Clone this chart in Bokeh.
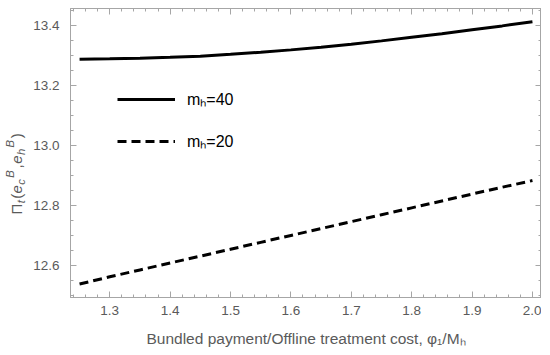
import numpy as np
from bokeh.plotting import figure
from bokeh.layouts import row
from bokeh.models import (Range1d, LinearAxis, FixedTicker, NumeralTickFormatter,
                          CustomJSTickFormatter, Legend, LegendItem, Label,
                          ColumnDataSource)
from bokeh.embed import file_html
from bokeh.resources import INLINE

# ---- data ----
ratio = [1.25, 1.30, 1.35, 1.40, 1.45, 1.50, 1.55, 1.60, 1.65, 1.70,
         1.75, 1.80, 1.85, 1.90, 1.95, 2.00]
profit_m40 = [13.288, 13.289, 13.291, 13.294, 13.298, 13.304, 13.311, 13.319,
              13.328, 13.338, 13.349, 13.361, 13.373, 13.386, 13.399, 13.413]
profit_m20 = [12.538, 12.562, 12.585, 12.608, 12.631, 12.654, 12.677, 12.700,
              12.723, 12.746, 12.769, 12.792, 12.815, 12.838, 12.861, 12.883]
series_labels = ["mₕ=40", "mₕ=20"]
x_ticks = [1.3, 1.4, 1.5, 1.6, 1.7, 1.8, 1.9, 2.0]
y_ticks = [12.6, 12.8, 13.0, 13.2, 13.4]
x_label = "Bundled payment/Offline treatment cost, φ₁/Mₕ"

GRAY = "#a6a6a6"
TXT = "#5a5a5a"
FONT = "Liberation Sans"

Y0, Y1 = 12.493, 13.457
FH = 289
LABEL_W = 30

x_minor = list(np.round(np.arange(1.24, 2.0201, 0.02), 2))
y_minor = list(np.round(np.arange(12.50, 13.4501, 0.05), 2))

p = figure(frame_width=471, frame_height=FH,
           x_range=Range1d(1.235, 2.015), y_range=Range1d(Y0, Y1),
           output_backend="svg", toolbar_location=None,
           min_border_left=70 - LABEL_W, min_border_right=0, min_border_top=8,
           min_border_bottom=55)
p.xgrid.visible = False
p.ygrid.visible = False
p.outline_line_color = GRAY
p.outline_line_width = 1
p.background_fill_color = "white"
p.border_fill_color = "white"

src = ColumnDataSource(dict(x=ratio, a=profit_m40, b=profit_m20))
r1 = p.line("x", "a", source=src, line_color="black", line_width=3)
r2 = p.line("x", "b", source=src, line_color="black", line_width=3, line_dash="9 5")

xt = FixedTicker(ticks=x_ticks, minor_ticks=x_minor)
yt = FixedTicker(ticks=y_ticks, minor_ticks=y_minor)


def style(ax):
    ax.axis_line_color = GRAY
    ax.major_tick_line_color = GRAY
    ax.minor_tick_line_color = GRAY
    ax.major_tick_in = 6
    ax.major_tick_out = 0
    ax.minor_tick_in = 3
    ax.minor_tick_out = 0
    ax.major_label_text_font = FONT
    ax.major_label_text_color = TXT
    ax.major_label_text_font_size = "13.5px"


xa = p.xaxis[0]
xa.ticker = xt
xa.formatter = NumeralTickFormatter(format="0.0")
style(xa)
xa.major_label_standoff = 8
xa.axis_label = x_label
xa.axis_label_text_font = FONT
xa.axis_label_text_font_style = "normal"
xa.axis_label_text_font_size = "15.5px"
xa.axis_label_text_color = TXT
xa.axis_label_standoff = 12

ya = p.yaxis[0]
ya.ticker = yt
ya.formatter = NumeralTickFormatter(format="0.0")
style(ya)
ya.major_label_standoff = 11

blank = CustomJSTickFormatter(code="return ''")
top = LinearAxis(ticker=xt, formatter=blank, major_label_standoff=0)
style(top)
p.add_layout(top, "above")
right = LinearAxis(ticker=yt, formatter=blank, major_label_standoff=0)
style(right)
p.add_layout(right, "right")

legend = Legend(items=[LegendItem(label=series_labels[0], renderers=[r1]),
                       LegendItem(label=series_labels[1], renderers=[r2])],
                location=(47, 145), padding=0, margin=0,
                glyph_width=58, glyph_height=20, label_height=20,
                label_standoff=12, spacing=20,
                label_text_font=FONT, label_text_font_size="16px",
                label_text_color="black",
                border_line_color=None, background_fill_alpha=0)
p.add_layout(legend, "center")

# ---- rotated y-axis label Π_t(e_c^B, e_h^B), in a narrow strip figure ----
lab = figure(frame_width=LABEL_W, frame_height=FH,
             x_range=Range1d(0, LABEL_W), y_range=Range1d(Y0, Y1),
             x_axis_location=None, y_axis_location=None,
             output_backend="svg", toolbar_location=None,
             min_border_left=0, min_border_right=0, min_border_top=8,
             min_border_bottom=55)
lab.grid.visible = False
lab.outline_line_color = None
lab.background_fill_color = "white"
lab.border_fill_color = "white"

pieces = [("Π", "main", "normal"), ("t", "sub", "italic"), ("(", "main", "normal"),
          ("e", "main", "italic"), ("c", "sub", "italic"), ("B", "sup", "italic"),
          (",", "main", "normal"), ("e", "main", "italic"), ("h", "sub", "italic"),
          ("B", "sup", "italic"), (")", "main", "normal")]
em = {"Π": 0.722, "t": 0.278, "(": 0.333, "e": 0.556, "c": 0.5, "B": 0.667,
      ",": 0.278, "h": 0.556, ")": 0.333}
size = {"main": 15, "sub": 11.3, "sup": 11.3}
shift = {"main": 0, "sub": 4, "sup": -7}
gap = {"main": 0.4, "sub": 1.3, "sup": 1.8}
widths = [em[c] * size[k] + gap[k] for c, k, _ in pieces]
px_per_unit = FH / (Y1 - Y0)
pos = 83                       # px above the strip's frame bottom
base_x = 16                    # baseline, px from the strip's left
for (ch, kind, fstyle), w in zip(pieces, widths):
    lab.add_layout(Label(x=base_x + shift[kind], y=Y0 + pos / px_per_unit,
                         x_units="data", y_units="data",
                         text=ch, angle=np.pi / 2, text_font=FONT,
                         text_font_size=f"{size[kind]}px", text_font_style=fstyle,
                         text_color=TXT, text_align="left", text_baseline="alphabetic"))
    pos += w

layout = row(lab, p)
open("out.html", "w").write(file_html(layout, INLINE))
